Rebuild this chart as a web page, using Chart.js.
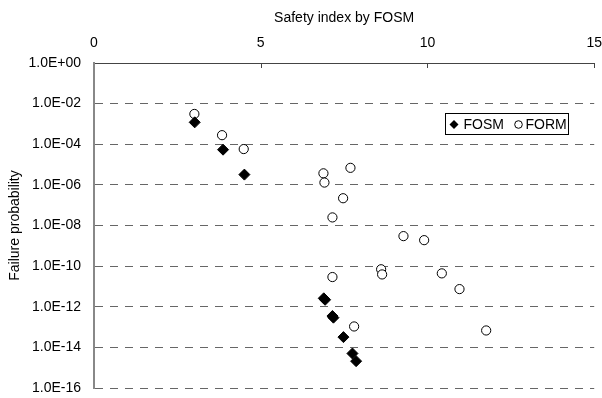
<!DOCTYPE html>
<html>
<head>
<meta charset="utf-8">
<script src="https://cdn.jsdelivr.net/npm/chart.js"></script>
<style>
  html, body { margin: 0; padding: 0; background: #fff; }
  #wrap { width: 602px; height: 398px; }
</style>
</head>
<body>
<div id="wrap"><canvas id="chart" width="602" height="398"></canvas></div>
<script>
// values
const fosmIndex = [3.02, 3.87, 4.51, 6.89, 6.93, 7.15, 7.18, 7.48, 7.75, 7.86];
const fosmProb  = [1.2e-3, 5.4e-5, 3.2e-6, 2.6e-12, 2.2e-12, 3.5e-13, 2.9e-13, 3.2e-14, 5e-15, 2.1e-15];

const formIndex = [3.01, 3.84, 4.49, 6.88, 6.91, 7.69, 7.47, 7.15, 9.28, 9.90, 8.61, 8.64, 10.43, 7.15, 10.96, 7.80, 11.76];
const formProb  = [3.1e-3, 2.8e-4, 5.8e-5, 3.7e-6, 1.3e-6, 6.9e-6, 2.2e-7, 2.5e-8, 3e-9, 1.9e-9, 7e-11, 3.9e-11, 4.4e-11, 2.9e-11, 7.4e-12, 1.07e-13, 6.8e-14];

const yTicks = [1e0, 1e-2, 1e-4, 1e-6, 1e-8, 1e-10, 1e-12, 1e-14, 1e-16];
const xTicks = [0, 5, 10, 15];

const FONT = 'Liberation Sans, Arial, sans-serif';

function toPoints(xs, ys) {
    return xs.map((x, i) => ({ x: x, y: ys[i] }));
}

// 1.0E-08 style labels
function expLabel(v) {
    const e = Math.round(Math.log10(v));
    const s = Math.abs(e) < 10 ? '0' + Math.abs(e) : '' + Math.abs(e);
    return '1.0E' + (e < 0 ? '-' : '+') + s;
}

// small tick marks pointing into the plot from the top axis
const innerTicks = {
    id: 'innerTicks',
    afterDraw(chart) {
        const ctx = chart.ctx;
        const x = chart.scales.x;
        const top = chart.chartArea.top;
        ctx.save();
        ctx.strokeStyle = '#444';
        ctx.lineWidth = 1;
        xTicks.slice(1).forEach(v => {
            const px = Math.round(x.getPixelForValue(v)) + 0.5;
            ctx.beginPath();
            ctx.moveTo(px, top);
            ctx.lineTo(px, top + 5);
            ctx.stroke();
        });
        ctx.restore();
    }
};

// boxed legend inside the plot, upper right
const boxLegend = {
    id: 'boxLegend',
    afterDraw(chart) {
        const ctx = chart.ctx;
        const a = chart.chartArea;
        const ds = chart.data.datasets;
        const left = Math.round(a.right - 149) + 0.5, top = Math.round(a.top + 50) + 0.5;
        const w = 123, h = 21;
        const cy = top + h / 2 + 0.5;
        ctx.save();
        ctx.fillStyle = '#fff';
        ctx.fillRect(left, top, w, h);
        ctx.strokeStyle = '#000';
        ctx.lineWidth = 1;
        ctx.strokeRect(left, top, w, h);

        ctx.font = '14px ' + FONT;
        ctx.textBaseline = 'middle';
        ctx.fillStyle = '#000';

        // diamond
        let x = left + 8.5;
        ctx.beginPath();
        ctx.moveTo(x - 4.5, cy);
        ctx.lineTo(x, cy - 4.5);
        ctx.lineTo(x + 4.5, cy);
        ctx.lineTo(x, cy + 4.5);
        ctx.closePath();
        ctx.fill();
        ctx.fillText(ds[0].label, left + 18, cy + 0.5);

        // circle
        x = left + 73;
        ctx.beginPath();
        ctx.arc(x, cy, 3.8, 0, Math.PI * 2);
        ctx.stroke();
        ctx.fillText(ds[1].label, left + 80, cy + 0.5);
        ctx.restore();
    }
};

new Chart(document.getElementById('chart'), {
    type: 'scatter',
    data: {
        datasets: [
            {
                label: 'FOSM',
                data: toPoints(fosmIndex, fosmProb),
                pointStyle: 'rectRot',
                pointRadius: 5.5,
                pointHoverRadius: 5.5,
                backgroundColor: '#000',
                borderColor: '#000',
                borderWidth: 1
            },
            {
                label: 'FORM',
                data: toPoints(formIndex, formProb),
                pointStyle: 'circle',
                pointRadius: 4.6,
                pointHoverRadius: 4.6,
                backgroundColor: '#fff',
                borderColor: '#000',
                borderWidth: 1
            }
        ]
    },
    options: {
        responsive: false,
        animation: false,
        layout: { padding: { left: 0, right: 7, top: 0, bottom: 10 } },
        plugins: {
            legend: { display: false },
            tooltip: { enabled: false }
        },
        scales: {
            x: {
                type: 'linear',
                position: 'top',
                min: 0,
                max: 15,
                afterBuildTicks(scale) {
                    scale.ticks = xTicks.map(v => ({ value: v }));
                },
                afterFit(scale) { scale.height = 63; },
                ticks: {
                    color: '#000',
                    font: { family: FONT, size: 14 },
                    padding: 0,
                    maxRotation: 0
                },
                // invisible tick marks keep the labels off the axis
                grid: { drawOnChartArea: false, drawTicks: true, tickLength: 11, tickColor: 'rgba(0,0,0,0)' },
                border: { display: true, color: '#444', width: 1 },
                title: {
                    display: true,
                    text: 'Safety index by FOSM',
                    color: '#000',
                    font: { family: FONT, size: 14 },
                    padding: { top: 10, bottom: 0 }
                }
            },
            y: {
                type: 'logarithmic',
                min: 1e-16,
                max: 1,
                afterBuildTicks(scale) {
                    scale.ticks = yTicks.map(v => ({ value: v }));
                },
                afterFit(scale) { scale.width = 94; },
                ticks: {
                    color: '#000',
                    font: { family: FONT, size: 14 },
                    padding: 0,
                    autoSkip: false,
                    callback: v => expLabel(v)
                },
                grid: {
                    drawTicks: true,
                    tickLength: 13,
                    tickColor: 'rgba(0,0,0,0)',
                    color: ctx => (ctx.tick && ctx.tick.value === 1 ? 'rgba(0,0,0,0)' : '#666'),
                    lineWidth: 1
                },
                // in v4 border.dash sets the dash of the grid lines
                border: { display: true, color: '#888', width: 2, dash: [8, 7] },
                title: {
                    display: true,
                    text: 'Failure probability',
                    color: '#000',
                    font: { family: FONT, size: 14 },
                    padding: { top: 7, bottom: 0 }
                }
            }
        }
    },
    plugins: [innerTicks, boxLegend]
});
</script>
</body>
</html>
